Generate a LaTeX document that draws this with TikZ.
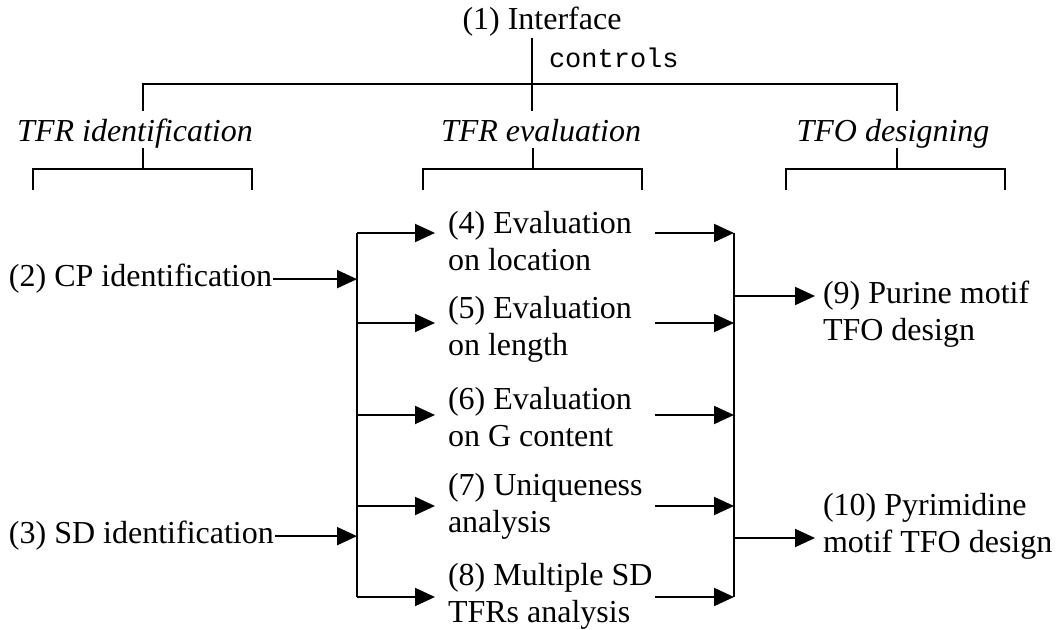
\documentclass[tikz,border=0pt]{standalone}
\usepackage{fontspec}
\setmainfont{Liberation Serif}
\setmonofont{Liberation Mono}
\usetikzlibrary{arrows.meta,positioning}
\tikzset{
  every picture/.style={line width=1pt},
  lbl/.style={font=\fontsize{16}{18.5}\selectfont, inner sep=0pt},
  grp/.style={lbl, font=\fontsize{16}{18.5}\selectfont\itshape, text height=11pt, text depth=2.5pt},
  task/.style={lbl, align=left, anchor=west},
  result/.style={lbl, align=left, anchor=west},
  rel/.style={font=\fontsize{13.5}{15}\selectfont\ttfamily, inner sep=0pt, anchor=base west},
  flow/.style={-{Triangle[length=10pt,width=9pt]}},
}

\begin{document}
\begin{tikzpicture}[x=0.5pt,y=-0.5pt]
  \useasboundingbox (0,0) rectangle (1057,630);
  % the interface on top, the three groups of tasks below it
  \node[lbl, anchor=base] (iface) at (542,30) {(1) Interface};
  \node[rel] (ctl) at (548,68) {controls};
  \node[grp, anchor=base] (ident) at (135,142) {TFR identification};
  \node[grp, anchor=base] (eval) at (541,142) {TFR evaluation};
  \node[grp, anchor=base] (design) at (893,142) {TFO designing};
  \coordinate (hub) at (532,84);
  \coordinate (tl) at (143,84);
  \coordinate (tr) at (897,84);
  \draw (iface.south -| hub) -- ([yshift=4pt]eval.north -| hub);
  \draw ([yshift=4pt]ident.north -| tl) -- (tl) -- (tr) -- ([yshift=4pt]design.north -| tr);
  % open brackets under each group
  \foreach \g/\x/\l/\r in {ident/143/33/252, eval/533/423/642, design/897/786/1005}
    \draw (\g.south -| \x,0) -- (\x,169) (\l,190) -- (\l,169) -- (\r,169) -- (\r,190);

  % inputs, evaluations and designs
  \node[lbl, anchor=base west] (cp) at (8,287) {(2) CP identification};
  \node[lbl, anchor=base west] (sd) at (8,544) {(3) SD identification};
  \node[task] (ev4) at (447,241) {(4) Evaluation\\on location};
  \node[task] (ev5) at (447,329) {(5) Evaluation\\on length};
  \node[task] (ev6) at (447,417) {(6) Evaluation\\on G content};
  \node[task] (ev7) at (447,506) {(7) Uniqueness\\analysis};
  \node[task] (ev8) at (447,596) {(8) Multiple SD\\TFRs analysis};
  \node[result] (pur) at (822,314) {(9) Purine motif\\TFO design};
  \node[result] (pyr) at (822,526) {(10) Pyrimidine\\motif TFO design};

  \foreach \n/\y in {4/233,5/323,6/415,7/506,8/597} {
    \coordinate (a\n) at (357,\y);
    \coordinate (o\n) at (655,\y);
  }
  \coordinate (rt) at (734,233);
  \coordinate (rb) at (734,597);
  \coordinate (r9) at (734,296);
  \coordinate (r10) at (734,538);

  \draw (a4) -- (a8);
  \draw (rt) -- (rb);
  \draw[flow] (cp.east) -- (cp.east -| a4);
  \draw[flow] (sd.east) -- (sd.east -| a4);
  \foreach \n in {4,...,8} {
    \draw[flow, shorten >=6pt] (a\n) -- (a\n -| ev\n.west);
    \draw[flow] (o\n) -- (o\n -| rt);
  }
  \draw[flow, shorten >=3.5pt] (r9) -- (r9 -| pur.west);
  \draw[flow, shorten >=3.5pt] (r10) -- (r10 -| pyr.west);
\end{tikzpicture}
\end{document}
